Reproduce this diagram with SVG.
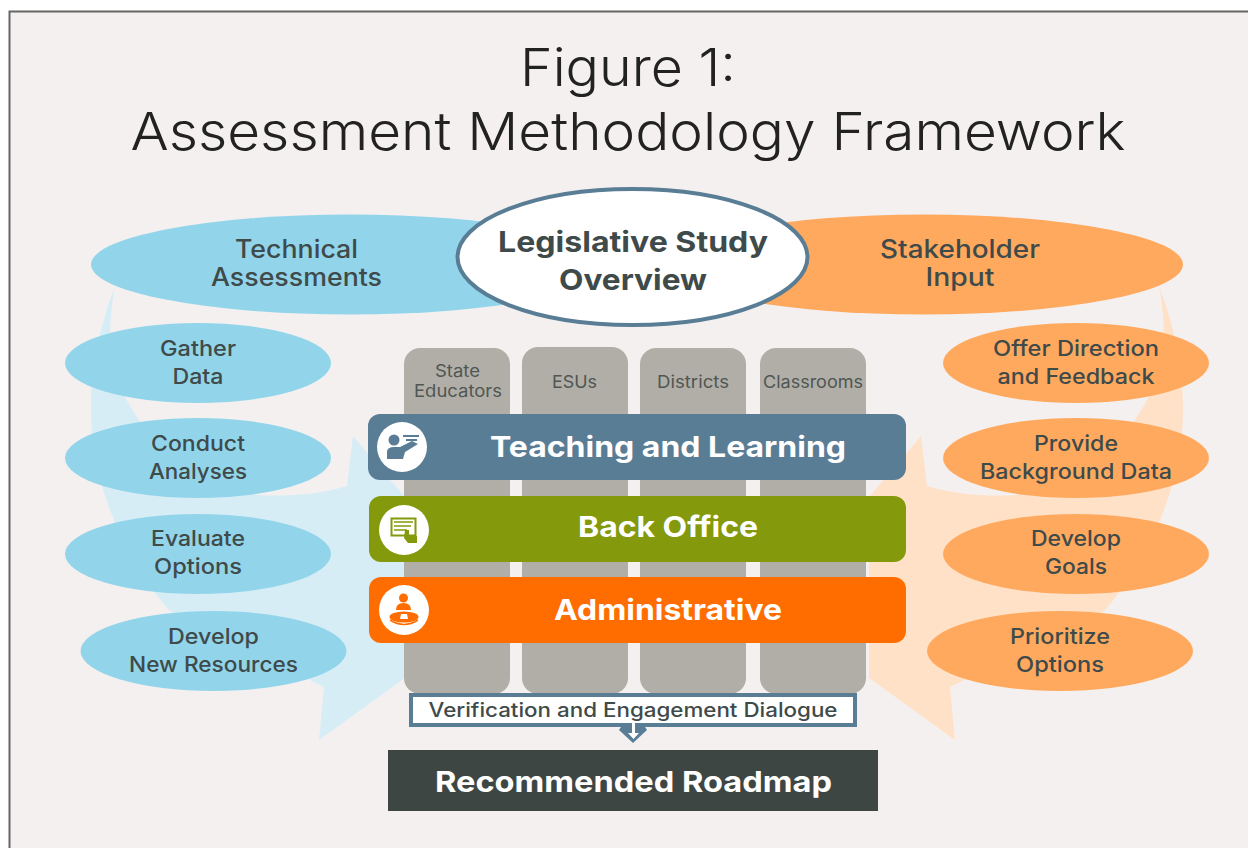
<svg xmlns="http://www.w3.org/2000/svg" width="1248" height="848" viewBox="0 0 1248 848">
<style>
text{font-family:Inter,"Open Sans","Liberation Sans",sans-serif;text-anchor:middle;fill:#3f4a4a;font-weight:500}
.title{font-size:52px;font-weight:300;fill:#222}
.big{font-size:25px}
.mid{font-size:21.500px}
.col{font-size:17px;font-weight:400;fill:#4f5654}
.bar{font-size:29px;font-weight:700;fill:#fff}
.blue{fill:#92d5eb}.orange{fill:#ffa95e}.column{fill:#b1aea7}
.ic{fill:#fff}
</style>
<defs>
<path id="sweep" d="M115 286C103 318 91 360 91 407C91 445 96 475 115 523C130 555 150 590 170 611L324 687L319 740L405 678L405 497L353 436L347 486C320 494 290 497 257 495C200 480 160 450 140 421C122 395 110 370 110 343C110 320 112 300 115 286Z"/>
</defs>
<rect x="0" y="0" width="1248" height="848" fill="#fff"/>
<rect x="9.500" y="11.500" width="1260" height="860" fill="#f4f0ef" stroke="#666" stroke-width="2"/>
<g id="title">
<text class="title" x="628" y="86" textLength="216" lengthAdjust="spacingAndGlyphs">Figure 1:</text>
<text class="title" x="628" y="150" textLength="995" lengthAdjust="spacingAndGlyphs">Assessment Methodology Framework</text>
</g>
<g id="connectors">
<use href="#sweep" fill="#d7edf6"/>
<use href="#sweep" fill="#ffe1c8" transform="translate(1274 0) scale(-1 1)"/>
</g>
<g id="technical"><ellipse class="blue" cx="350" cy="264.500" rx="259" ry="50"/>
<text class="big" x="296.500" y="258" textLength="123" lengthAdjust="spacingAndGlyphs">Technical</text>
<text class="big" x="296.500" y="286" textLength="171" lengthAdjust="spacingAndGlyphs">Assessments</text></g>
<g id="stakeholder"><ellipse class="orange" cx="924" cy="264.500" rx="259" ry="50"/>
<text class="big" x="960" y="258" textLength="160" lengthAdjust="spacingAndGlyphs">Stakeholder</text>
<text class="big" x="960" y="286" textLength="69" lengthAdjust="spacingAndGlyphs">Input</text></g>
<g id="overview"><ellipse cx="632.500" cy="257" rx="175" ry="68" fill="#fff" stroke="#5a7d96" stroke-width="4"/>
<text x="633" y="252" font-size="29" style="font-weight:700" textLength="270" lengthAdjust="spacingAndGlyphs">Legislative Study</text>
<text x="633" y="290" font-size="29" style="font-weight:700" textLength="148" lengthAdjust="spacingAndGlyphs">Overview</text></g>
<g id="gather"><ellipse class="blue" cx="198" cy="363" rx="133" ry="40"/>
<text class="mid" x="198" y="356" textLength="76" lengthAdjust="spacingAndGlyphs">Gather</text>
<text class="mid" x="198" y="384" textLength="51" lengthAdjust="spacingAndGlyphs">Data</text></g>
<g id="conduct"><ellipse class="blue" cx="198" cy="458" rx="133" ry="40"/>
<text class="mid" x="198" y="451" textLength="94" lengthAdjust="spacingAndGlyphs">Conduct</text>
<text class="mid" x="198" y="479" textLength="98" lengthAdjust="spacingAndGlyphs">Analyses</text></g>
<g id="evaluate"><ellipse class="blue" cx="198" cy="554" rx="133" ry="40"/>
<text class="mid" x="198" y="546" textLength="94" lengthAdjust="spacingAndGlyphs">Evaluate</text>
<text class="mid" x="198" y="574" textLength="88" lengthAdjust="spacingAndGlyphs">Options</text></g>
<g id="resources"><ellipse class="blue" cx="213.500" cy="651" rx="133" ry="40"/>
<text class="mid" x="213.500" y="644" textLength="91" lengthAdjust="spacingAndGlyphs">Develop</text>
<text class="mid" x="213.500" y="672" textLength="169" lengthAdjust="spacingAndGlyphs">New Resources</text></g>
<g id="offer"><ellipse class="orange" cx="1076" cy="363" rx="133" ry="40"/>
<text class="mid" x="1076" y="356" textLength="166" lengthAdjust="spacingAndGlyphs">Offer Direction</text>
<text class="mid" x="1076" y="384" textLength="157" lengthAdjust="spacingAndGlyphs">and Feedback</text></g>
<g id="provide"><ellipse class="orange" cx="1076" cy="458" rx="133" ry="40"/>
<text class="mid" x="1076" y="451" textLength="84" lengthAdjust="spacingAndGlyphs">Provide</text>
<text class="mid" x="1076" y="479" textLength="192" lengthAdjust="spacingAndGlyphs">Background Data</text></g>
<g id="goals"><ellipse class="orange" cx="1076" cy="554" rx="133" ry="40"/>
<text class="mid" x="1076" y="546" textLength="90" lengthAdjust="spacingAndGlyphs">Develop</text>
<text class="mid" x="1076" y="574" textLength="62" lengthAdjust="spacingAndGlyphs">Goals</text></g>
<g id="prioritize"><ellipse class="orange" cx="1060" cy="651" rx="133" ry="40"/>
<text class="mid" x="1060" y="644" textLength="100" lengthAdjust="spacingAndGlyphs">Prioritize</text>
<text class="mid" x="1060" y="672" textLength="88" lengthAdjust="spacingAndGlyphs">Options</text></g>
<g id="col-state"><rect class="column" x="404" y="348" width="106" height="346" rx="16"/>
<text class="col" x="457.500" y="377" textLength="45" lengthAdjust="spacingAndGlyphs">State</text>
<text class="col" x="458" y="397" textLength="88" lengthAdjust="spacingAndGlyphs">Educators</text></g>
<g id="col-esu"><rect class="column" x="522" y="347" width="106" height="347" rx="16"/>
<text class="col" x="574.500" y="388" textLength="45" lengthAdjust="spacingAndGlyphs">ESUs</text></g>
<g id="col-districts"><rect class="column" x="640" y="348" width="106" height="346" rx="16"/>
<text class="col" x="693" y="388" textLength="72" lengthAdjust="spacingAndGlyphs">Districts</text></g>
<g id="col-classrooms"><rect class="column" x="760" y="348" width="106" height="346" rx="16"/>
<text class="col" x="813" y="388" textLength="100" lengthAdjust="spacingAndGlyphs">Classrooms</text></g>
<g id="teaching"><rect x="368" y="414" width="538" height="66" rx="12" fill="#5a7d96"/>
<circle class="ic" cx="402" cy="447" r="25"/>
<circle cx="394" cy="440" r="5.500" fill="#5a7d96"/>
<path d="M387 459V451Q388 447 394 447H400L412 441L418 444L405 452L403 459Z" fill="#5a7d96"/>
<path d="M403 436H419M406 440H417" stroke="#5a7d96" stroke-width="2"/>
<text class="bar" x="668" y="457" textLength="356" lengthAdjust="spacingAndGlyphs">Teaching and Learning</text></g>
<g id="backoffice"><rect x="369" y="496" width="537" height="66" rx="12" fill="#84990b"/>
<circle class="ic" cx="404" cy="530" r="25"/>
<rect x="391.500" y="518.500" width="24" height="17" fill="none" stroke="#84990b" stroke-width="2"/>
<path d="M394 522H413M394 526H411M394 530H407" stroke="#84990b" stroke-width="1.500"/>
<path d="M405 530H409V535L417 536V543H408L404 538Z" fill="#84990b"/>
<text class="bar" x="668" y="537" textLength="180" lengthAdjust="spacingAndGlyphs">Back Office</text></g>
<g id="administrative"><rect x="369" y="577" width="537" height="66" rx="12" fill="#ff6d00"/>
<circle class="ic" cx="404" cy="610" r="25"/>
<circle cx="403.500" cy="598" r="4.500" fill="#ff6d00"/>
<path d="M396 610Q396 603 403.500 603Q411 603 411 610Z" fill="#ff6d00"/>
<ellipse cx="404" cy="617" rx="14.500" ry="5.500" fill="#ff6d00"/>
<path d="M390 620Q404 629 418 620" fill="none" stroke="#ff6d00" stroke-width="1.500"/>
<path d="M401 614H407L408 619H400Z" fill="#fff"/>
<text class="bar" x="668" y="620" textLength="228" lengthAdjust="spacingAndGlyphs">Administrative</text></g>
<g id="verification"><rect x="411" y="695" width="444" height="30" fill="#fff" stroke="#5a7d96" stroke-width="4"/>
<text x="633" y="717" font-size="19.500" textLength="409" lengthAdjust="spacingAndGlyphs">Verification and Engagement Dialogue</text></g>
<g id="flow-arrow">
<path d="M619 730L621 727H645L647 730L633 743Z" fill="#5a7d96"/>
<path d="M632 722H635V733H639L633.500 739L628 733H632Z" fill="#fff"/>
</g>
<g id="roadmap"><rect x="388" y="750" width="490" height="61" fill="#3e4643"/>
<text class="bar" x="633.500" y="792" textLength="397" lengthAdjust="spacingAndGlyphs">Recommended Roadmap</text></g>
</svg>
